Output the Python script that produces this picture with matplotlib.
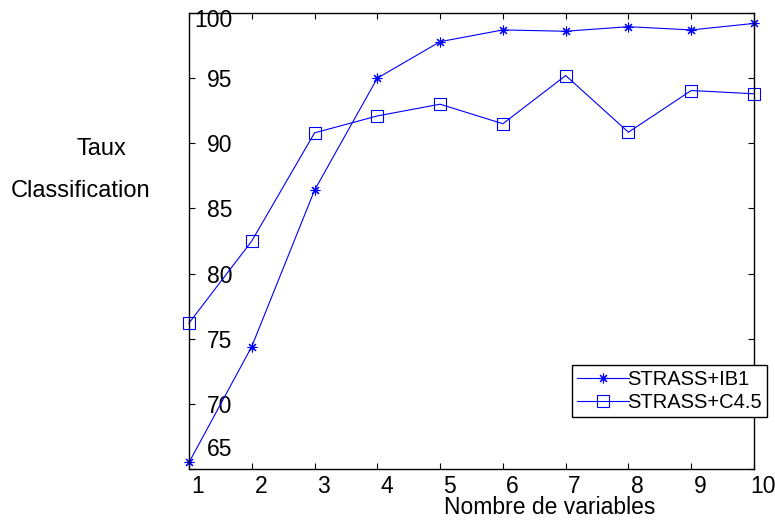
import numpy as np
import matplotlib.pyplot as plt
import matplotlib.transforms as mtransforms

plt.rcParams['font.family'] = ['Liberation Sans', 'DejaVu Sans']

# ------------------------------
# Datos
# ------------------------------
nb_vars = [1, 2, 3, 4, 5, 6, 7, 8, 9, 10]
ib1 = [65.5, 74.4, 86.4, 95.0, 97.8, 98.7, 98.6, 98.95, 98.7, 99.2]
c45 = [76.2, 82.5, 90.8, 92.1, 93.0, 91.5, 95.2, 90.85, 94.05, 93.8]
labels = ["STRASS+IB1", "STRASS+C4.5"]
yticks = [65, 70, 75, 80, 85, 90, 95, 100]

W, H = 775, 522
fig = plt.figure(figsize=(W/100, H/100), dpi=100)
ax = fig.add_axes([189/W, 1 - 469/H, (754 - 189)/W, (469 - 13)/H])

ax.plot(nb_vars, ib1, color='#0000ff', lw=0.8, marker=(8, 2, 0), ms=7,
        mew=0.8, clip_on=False, label=labels[0])
ax.plot(nb_vars, c45, color='#0000ff', lw=0.8, marker='s', ms=8,
        mfc='none', mew=0.8, clip_on=False, label=labels[1])

ax.set_xlim(1, 10)
ax.set_ylim(65, 100)
ax.set_xticks(nb_vars)
ax.set_yticks(yticks)

ax.tick_params(direction='in', length=4.5, width=0.8, labelsize=16.5,
               top=True, right=True)
ax.tick_params(axis='x', pad=4)
ax.tick_params(axis='y', pad=-31)
for lab in ax.get_yticklabels():
    lab.set_horizontalalignment('right')
for lab in ax.get_xticklabels():
    lab.set_transform(lab.get_transform() +
                      mtransforms.ScaledTranslation(9/100, 0, fig.dpi_scale_trans))
ylabs = ax.get_yticklabels()
ylabs[0].set_transform(ylabs[0].get_transform() +
                       mtransforms.ScaledTranslation(0, 22/100, fig.dpi_scale_trans))
ylabs[-1].set_transform(ylabs[-1].get_transform() +
                        mtransforms.ScaledTranslation(0, -5/100, fig.dpi_scale_trans))

for s in ax.spines.values():
    s.set_linewidth(1.0)

fig.text(101/W, 1 - 155/H, "Taux", ha='center', va='baseline', fontsize=17)
fig.text(81/W, 1 - 197/H, "Classification", ha='center', va='baseline', fontsize=17)
fig.text(550/W, 1 - 514/H, "Nombre de variables", ha='center', va='baseline', fontsize=16.5)

leg = ax.legend(loc='upper left', bbox_to_anchor=(572/W, 1 - 365/H),
                bbox_transform=fig.transFigure, fontsize=14.5, borderaxespad=0,
                borderpad=0.25, labelspacing=0.2, handlelength=2.6,
                handletextpad=-0.1, fancybox=False, framealpha=1)
leg.get_frame().set_edgecolor('black')
leg.get_frame().set_linewidth(1.0)

fig.savefig("out.png", dpi=100)
